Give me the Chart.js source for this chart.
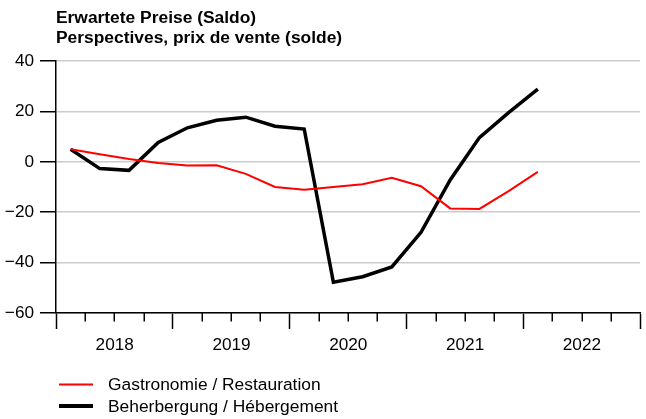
<!DOCTYPE html>
<html>
<head>
<meta charset="utf-8">
<script src="https://cdn.jsdelivr.net/npm/chart.js@4/dist/chart.umd.min.js"></script>
<style>
  html, body { margin: 0; padding: 0; background: #fff; }
  #wrap { width: 646px; height: 419px; }
</style>
</head>
<body>
<div id="wrap"><canvas id="c" width="646" height="419"></canvas></div>
<script>
// ---- data ----
const titleLines = ["Erwartete Preise (Saldo)", "Perspectives, prix de vente (solde)"];
const quarters = ["2018Q1","2018Q2","2018Q3","2018Q4","2019Q1","2019Q2","2019Q3","2019Q4",
                  "2020Q1","2020Q2","2020Q3","2020Q4","2021Q1","2021Q2","2021Q3","2021Q4","2022Q1"];
const yearLabels = ["2018", "2019", "2020", "2021", "2022"];
const yTicks = [-60, -40, -20, 0, 20, 40];
const gastroLabel = "Gastronomie / Restauration";
const gastro = [5, 3.0, 1.1, -0.5, -1.5, -1.4, -4.8, -10.0, -11.1, -10.0, -8.9, -6.3, -9.7, -18.5, -18.7, -11.6, -4.0];
const hotelLabel = "Beherbergung / Hébergement";
const hotel = [5, -2.7, -3.4, 7.7, 13.5, 16.5, 17.7, 14.1, 13.0, -47.8, -45.6, -41.7, -28.0, -7.2, 9.6, 19.5, 28.8];

const FONT = '"Liberation Sans", Arial, Helvetica, sans-serif';
const toPts = arr => arr.map((v, i) => ({ x: i + 0.5, y: v }));

const extras = {
  id: 'extras',
  afterDraw(chart) {
    const ctx = chart.ctx;
    const area = chart.chartArea;
    const xs = chart.scales.x;
    ctx.save();
    // minor (quarter) ticks
    ctx.strokeStyle = '#000';
    ctx.lineWidth = 1.5;
    for (let q = 1; q < yearLabels.length * 4; q++) {
      if (q % 4 === 0) continue;
      const px = Math.round(xs.getPixelForValue(q)) + 0.25;
      ctx.beginPath();
      ctx.moveTo(px, xs.top);
      ctx.lineTo(px, xs.top + 8.5);
      ctx.stroke();
    }
    // title
    ctx.fillStyle = '#000';
    ctx.font = 'bold 17.4px ' + FONT;
    ctx.textAlign = 'left';
    ctx.textBaseline = 'alphabetic';
    titleLines.forEach((t, i) => ctx.fillText(t, area.left, 22.7 + i * 20));
    // legend
    ctx.font = '17.4px ' + FONT;
    ctx.textBaseline = 'middle';
    chart.data.datasets.forEach((ds, i) => {
      const y = area.bottom + 71.5 + i * 21.5;
      ctx.strokeStyle = ds.borderColor;
      ctx.lineWidth = ds.borderWidth + (i === 1 ? 0.5 : 0);
      ctx.beginPath();
      ctx.moveTo(59, y);
      ctx.lineTo(93, y);
      ctx.stroke();
      ctx.fillStyle = '#000';
      ctx.fillText(ds.label, 108, y + 1);
    });
    ctx.restore();
  }
};

new Chart(document.getElementById('c'), {
  type: 'line',
  data: {
    datasets: [
      { label: gastroLabel, data: toPts(gastro), borderColor: '#ff0000', borderWidth: 2,
        pointRadius: 0, tension: 0, fill: false },
      { label: hotelLabel, data: toPts(hotel), borderColor: '#000000', borderWidth: 3.5,
        pointRadius: 0, tension: 0, fill: false }
    ]
  },
  options: {
    responsive: false,
    animation: false,
    events: [],
    layout: { padding: { top: 61, right: 3, bottom: 0, left: 0 } },
    plugins: { legend: { display: false }, title: { display: false }, tooltip: { enabled: false } },
    scales: {
      x: {
        type: 'linear',
        min: 0,
        max: yearLabels.length * 4,
        afterFit: s => { s.height = 106; },
        afterBuildTicks: s => { s.ticks = yearLabels.map((_, i) => ({ value: i * 4 })).concat([{ value: yearLabels.length * 4 }]); },
        border: { display: true, color: '#000', width: 1.5 },
        grid: { display: true, drawOnChartArea: false, drawTicks: true, tickLength: 16, tickColor: '#000', tickWidth: 1.5 },
        ticks: {
          autoSkip: false,
          maxRotation: 0,
          padding: 6,
          labelOffset: 58.7,
          color: '#000',
          font: { family: FONT, size: 17.2 },
          callback: v => yearLabels[v / 4] || ''
        }
      },
      y: {
        min: -60,
        max: 40,
        afterFit: s => { s.width = 56; },
        afterBuildTicks: s => { s.ticks = yTicks.map(v => ({ value: v })); },
        border: { display: true, color: '#000', width: 1.5 },
        grid: { color: '#cccccc', lineWidth: 1.5, tickLength: 16, tickColor: '#000', tickWidth: 1.5 },
        ticks: {
          padding: 6,
          color: '#000',
          font: { family: FONT, size: 17.2 },
          callback: v => (v < 0 ? '\u2212' + Math.abs(v) : String(v))
        }
      }
    }
  },
  plugins: [extras]
});
</script>
</body>
</html>
